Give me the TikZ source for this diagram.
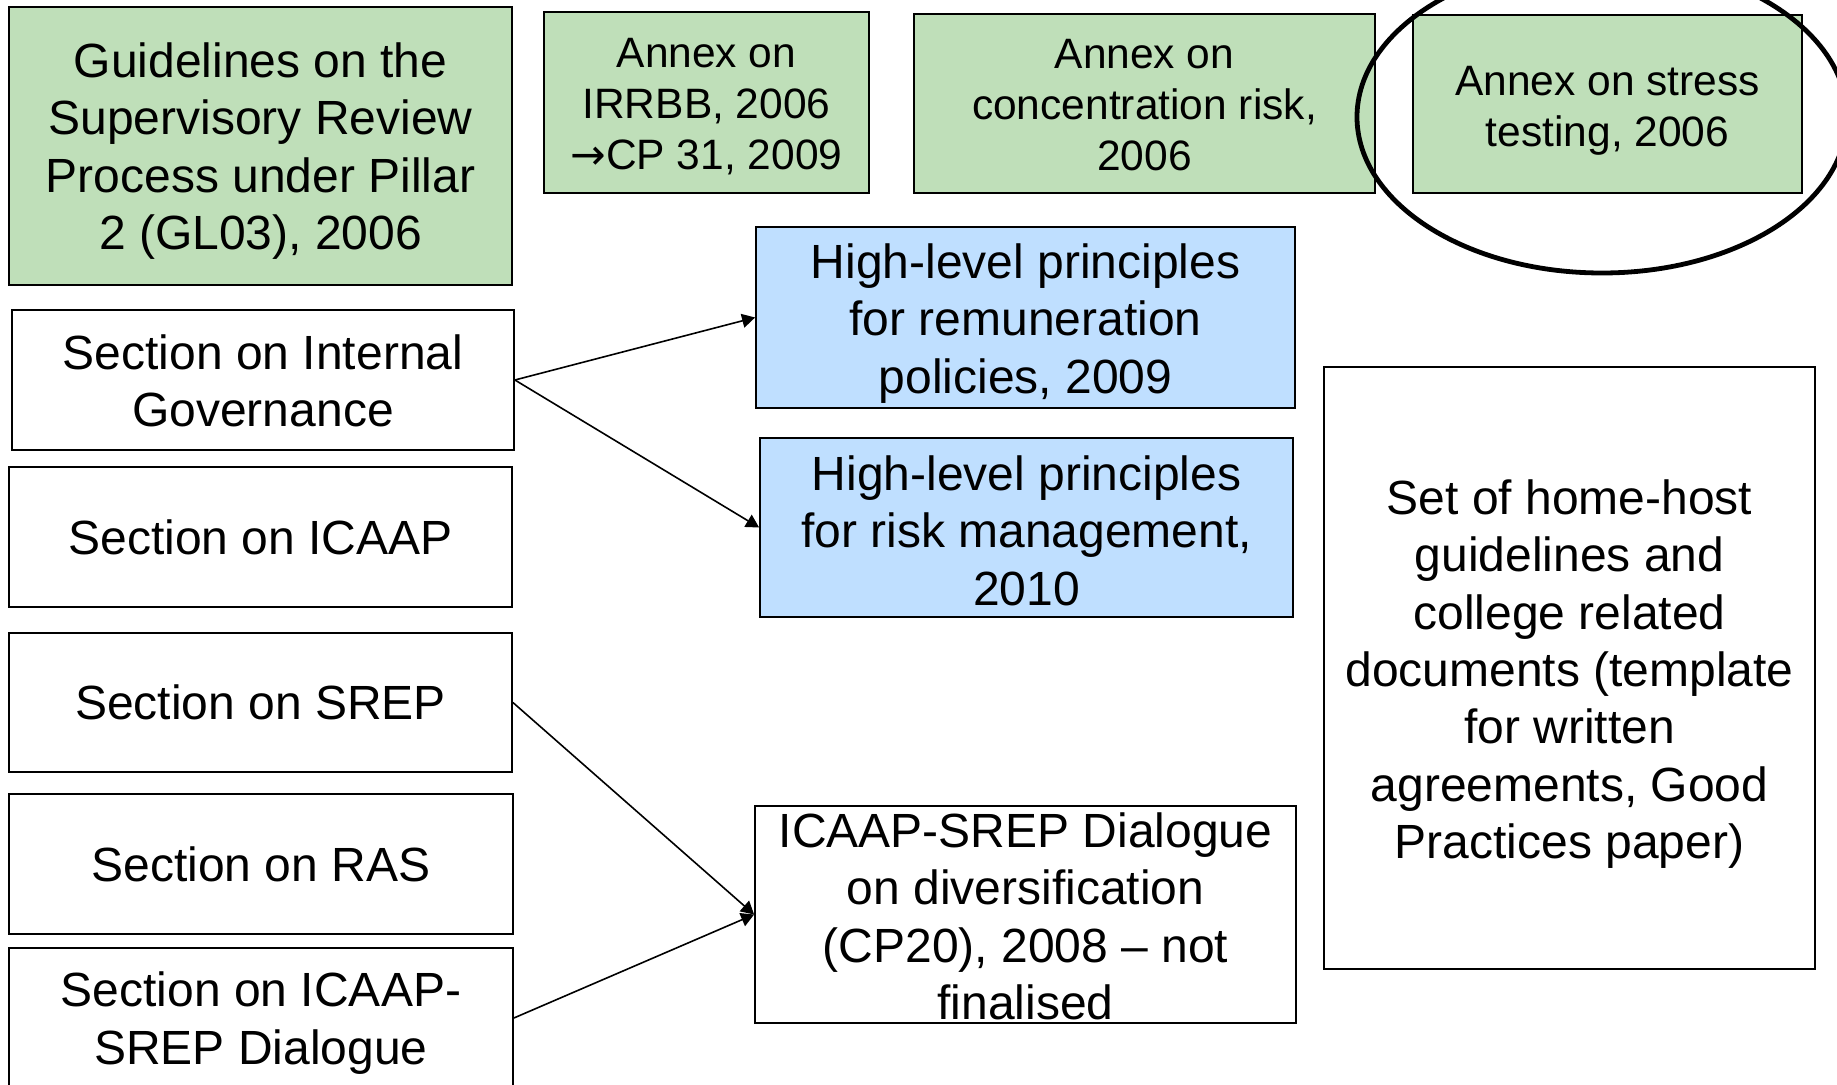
\documentclass[tikz,border=0pt]{standalone}
\usepackage{fontspec}
\setmainfont{Liberation Sans}
\newfontfamily\arrowfont{DejaVu Sans}
\usetikzlibrary{arrows.meta}
\definecolor{gfill}{RGB}{191,223,185}
\definecolor{bfill}{RGB}{191,223,255}
\begin{document}
\begin{tikzpicture}[x=0.5pt,y=-0.5pt,
  box/.style={draw=black, line width=0.9pt, inner sep=0pt},
  greenbox/.style={box, fill=gfill},
  bluebox/.style={box, fill=bfill},
  wh/.style 2 args={minimum width=#1*0.5pt, minimum height=#2*0.5pt},
  txt/.style={inner sep=0pt, align=center, font=\fontsize{24}{28.7}\selectfont},
  smalltxt/.style={txt, font=\fontsize{21.25}{25.5}\selectfont},
  conn/.style={-{Triangle[length=6.5pt,width=7pt]}, line width=0.8pt},
  ring/.style={draw=black, line width=2.4pt}]
\useasboundingbox (0,0) rectangle (1837,1085);
\fill[white] (0,0) rectangle (1837,1085);
\clip (0,0) rectangle (1837,1085);

% boxes
\node[greenbox, wh={503}{278}] (gl) at (260.5,146) {};
\node[greenbox, wh={325}{181}] (irrbb) at (706.5,102.5) {};
\node[greenbox, wh={461}{179}] (conc) at (1144.5,103.5) {};
\node[greenbox, wh={389}{178}] (stress) at (1607.5,104) {};
\node[box, wh={502}{140}] (ig) at (263,380) {};
\node[box, wh={503}{140}] (icaap) at (260.5,537) {};
\node[box, wh={503}{139}] (srep) at (260.5,702.5) {};
\node[box, wh={504}{140}] (ras) at (261,864) {};
\node[box, wh={504}{140}] (dial) at (261,1018) {};
\node[bluebox, wh={539}{181}] (remun) at (1025.5,317.5) {};
\node[bluebox, wh={533}{179}] (risk) at (1026.5,527.5) {};
\node[box, wh={541}{217}] (cp20) at (1025.5,914.5) {};
\node[box, wh={491}{602}] (home) at (1569.5,668) {};

% texts
\node[txt] (glt) at ([yshift=-2.6pt]gl.center) {Guidelines on the\\Supervisory Review\\Process under Pillar\\2 (GL03), 2006};
\node[smalltxt] (irrbbt) at ([yshift=-2pt]irrbb.center) {Annex on\\IRRBB, 2006\\{\arrowfont →}CP 31, 2009};
\node[smalltxt] (conct) at ([yshift=-1pt]conc.center) {Annex on\\concentration risk,\\2006};
\node[smalltxt] (stresst) at ([yshift=-3.5pt]stress.center) {Annex on stress\\testing, 2006};
\node[txt] (igt) at ([yshift=-0.5pt]ig.center) {Section on Internal\\Governance};
\node[txt] (icaapt) at (icaap.center) {Section on ICAAP};
\node[txt] (srept) at (srep.center) {Section on SREP};
\node[txt] (rast) at (ras.center) {Section on RAS};
\node[txt] (dialt) at ([yshift=-2.5pt]dial.center) {Section on ICAAP-\\SREP Dialogue};
\node[txt] (remunt) at ([yshift=-3pt]remun.center) {High-level principles\\for remuneration\\policies, 2009};
\node[txt] (riskt) at ([yshift=-1.5pt]risk.center) {High-level principles\\for risk management,\\2010};
\node[txt] (cp20t) at ([yshift=-1pt]cp20.center) {ICAAP-SREP Dialogue\\on diversification\\(CP20), 2008 – not\\finalised};
\node[txt] (homet) at ([yshift=-3pt]home.center) {Set of home-host\\guidelines and\\college related\\documents (template\\for written\\agreements, Good\\Practices paper)};

\draw[ring] (1602,117) ellipse [x radius=122.5pt, y radius=78pt];

\draw[conn] (ig.east) -- (remun.west);
\draw[conn] (ig.east) -- (risk.west);
\draw[conn] (srep.east) -- (cp20.west);
\draw[conn] (dial.east) -- (cp20.west);
\end{tikzpicture}
\end{document}
